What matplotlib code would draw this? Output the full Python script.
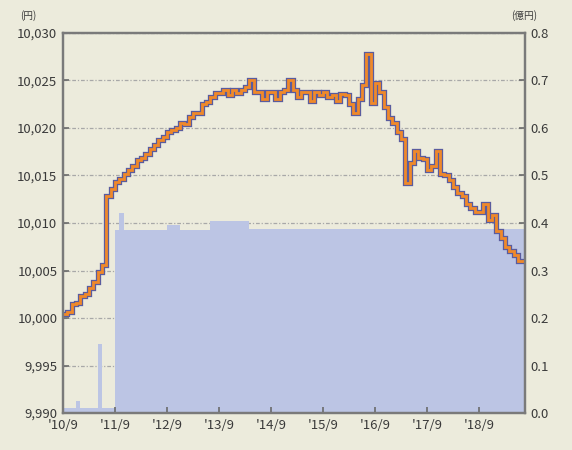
import numpy as np
import matplotlib.pyplot as plt

plt.rcParams['font.family'] = ['Liberation Sans Narrow', 'Noto Sans CJK JP', 'DejaVu Sans']

# 基準価額（円）月次 2010/9〜
price = [10000.4, 10000.6, 10001.5, 10001.6, 10002.3, 10002.5, 10003.2, 10003.8, 10004.8, 10005.6,
         10012.8, 10013.6, 10014.3, 10014.6, 10015.1, 10015.6, 10016.0, 10016.6, 10016.8, 10017.3,
         10017.8, 10018.2, 10018.7, 10019.0, 10019.6, 10019.8, 10020.0, 10020.5, 10020.4, 10021.2,
         10021.6, 10021.6, 10022.5, 10022.7, 10023.3, 10023.7, 10023.7, 10024.0, 10023.5, 10024.0,
         10023.7, 10024.0, 10024.3, 10025.0, 10023.8, 10023.8, 10023.0, 10023.8, 10023.8, 10023.0,
         10023.8, 10024.0, 10025.0, 10024.0, 10023.2, 10023.8, 10023.8, 10022.8, 10023.8, 10023.5,
         10023.8, 10023.3, 10023.5, 10022.8, 10023.6, 10023.5, 10022.5, 10021.6, 10023.0, 10024.5,
         10027.8, 10022.6, 10024.7, 10023.8, 10022.2, 10021.0, 10020.5, 10019.6, 10018.8, 10014.2,
         10016.3, 10017.6, 10016.8, 10016.7, 10015.6, 10016.0, 10017.6, 10015.2, 10015.0, 10014.5,
         10013.8, 10013.2, 10012.8, 10012.0, 10011.6, 10011.2, 10011.2, 10012.0, 10010.3, 10010.8,
         10009.2, 10008.4, 10007.5, 10007.0, 10006.6, 10006.0, 10006.0]

# 純資産総額（億円）
assets = [0.01, 0.01, 0.01, 0.025, 0.01, 0.01, 0.01, 0.01, 0.145, 0.01,
          0.01, 0.01, 0.385, 0.42, 0.385, 0.385, 0.385, 0.385, 0.385, 0.385,
          0.385, 0.385, 0.385, 0.385, 0.395, 0.395, 0.395, 0.385, 0.385, 0.385,
          0.385, 0.385, 0.385, 0.385, 0.405, 0.405, 0.405, 0.405, 0.405, 0.405,
          0.405, 0.405, 0.405] + [0.387] * 64

xlabels = ["'10/9", "'11/9", "'12/9", "'13/9", "'14/9", "'15/9", "'16/9", "'17/9", "'18/9"]

m = np.arange(len(price))
xe = np.append(m, len(price) - 0.4)
pe = np.append(price, price[-1])
ae = np.append(assets, assets[-1])

fig = plt.figure(figsize=(5.72, 4.5), dpi=100, facecolor='#ecebdc')
ax1 = fig.add_axes([0.110, 0.082, 0.808, 0.845])
ax2 = ax1.twinx()

# 右軸：面グラフ（グリッドはこちらに描いて面の下に）
ax2.fill_between(xe, 0, ae, step='post', color='#bcc5e4', lw=0, zorder=2)
ax2.set_ylim(0, 0.8)
ax2.set_yticks(np.arange(0, 0.81, 0.1))
ax2.set_yticklabels(['%.1f' % v for v in np.arange(0, 0.81, 0.1)])
ax2.grid(axis='y', color='#a8a8a8', linestyle=(0, (3, 1.5, 1, 1.5)), lw=0.9, zorder=1)
ax2.set_axisbelow(True)
ax2.set_facecolor('white')

# 左軸：基準価額
ax1.set_zorder(ax2.get_zorder() + 1)
ax1.patch.set_visible(False)
ax1.plot(xe, pe, color='#5a5c9e', lw=3.8, drawstyle='steps-post', solid_joinstyle='miter')
ax1.plot(xe, pe, color='#f0892a', lw=2.0, drawstyle='steps-post', solid_joinstyle='miter')
ax1.set_ylim(9990, 10030)
ax1.set_yticks(np.arange(9990, 10031, 5))
ax1.set_yticklabels(['{:,}'.format(v) for v in range(9990, 10031, 5)])
ax1.set_xlim(0, len(price) - 0.4)
ax1.set_xticks(np.arange(0, 97, 12))
ax1.set_xticklabels(xlabels)

for ax in (ax1, ax2):
    for s in ax.spines.values():
        s.set_color('#7a7a7a')
        s.set_linewidth(1.6)
    ax.tick_params(direction='in', length=4, width=1.2, color='#6a6a6a',
                   labelsize=9.5, labelcolor='#3a3a3a', pad=4)

fig.text(0.035, 0.958, '(円)', fontsize=7, color='#3a3a3a', family=['Noto Sans CJK JP'])
fig.text(0.893, 0.958, '(億円)', fontsize=7, color='#3a3a3a', family=['Noto Sans CJK JP'])

fig.savefig('out.png', dpi=100, facecolor=fig.get_facecolor())
